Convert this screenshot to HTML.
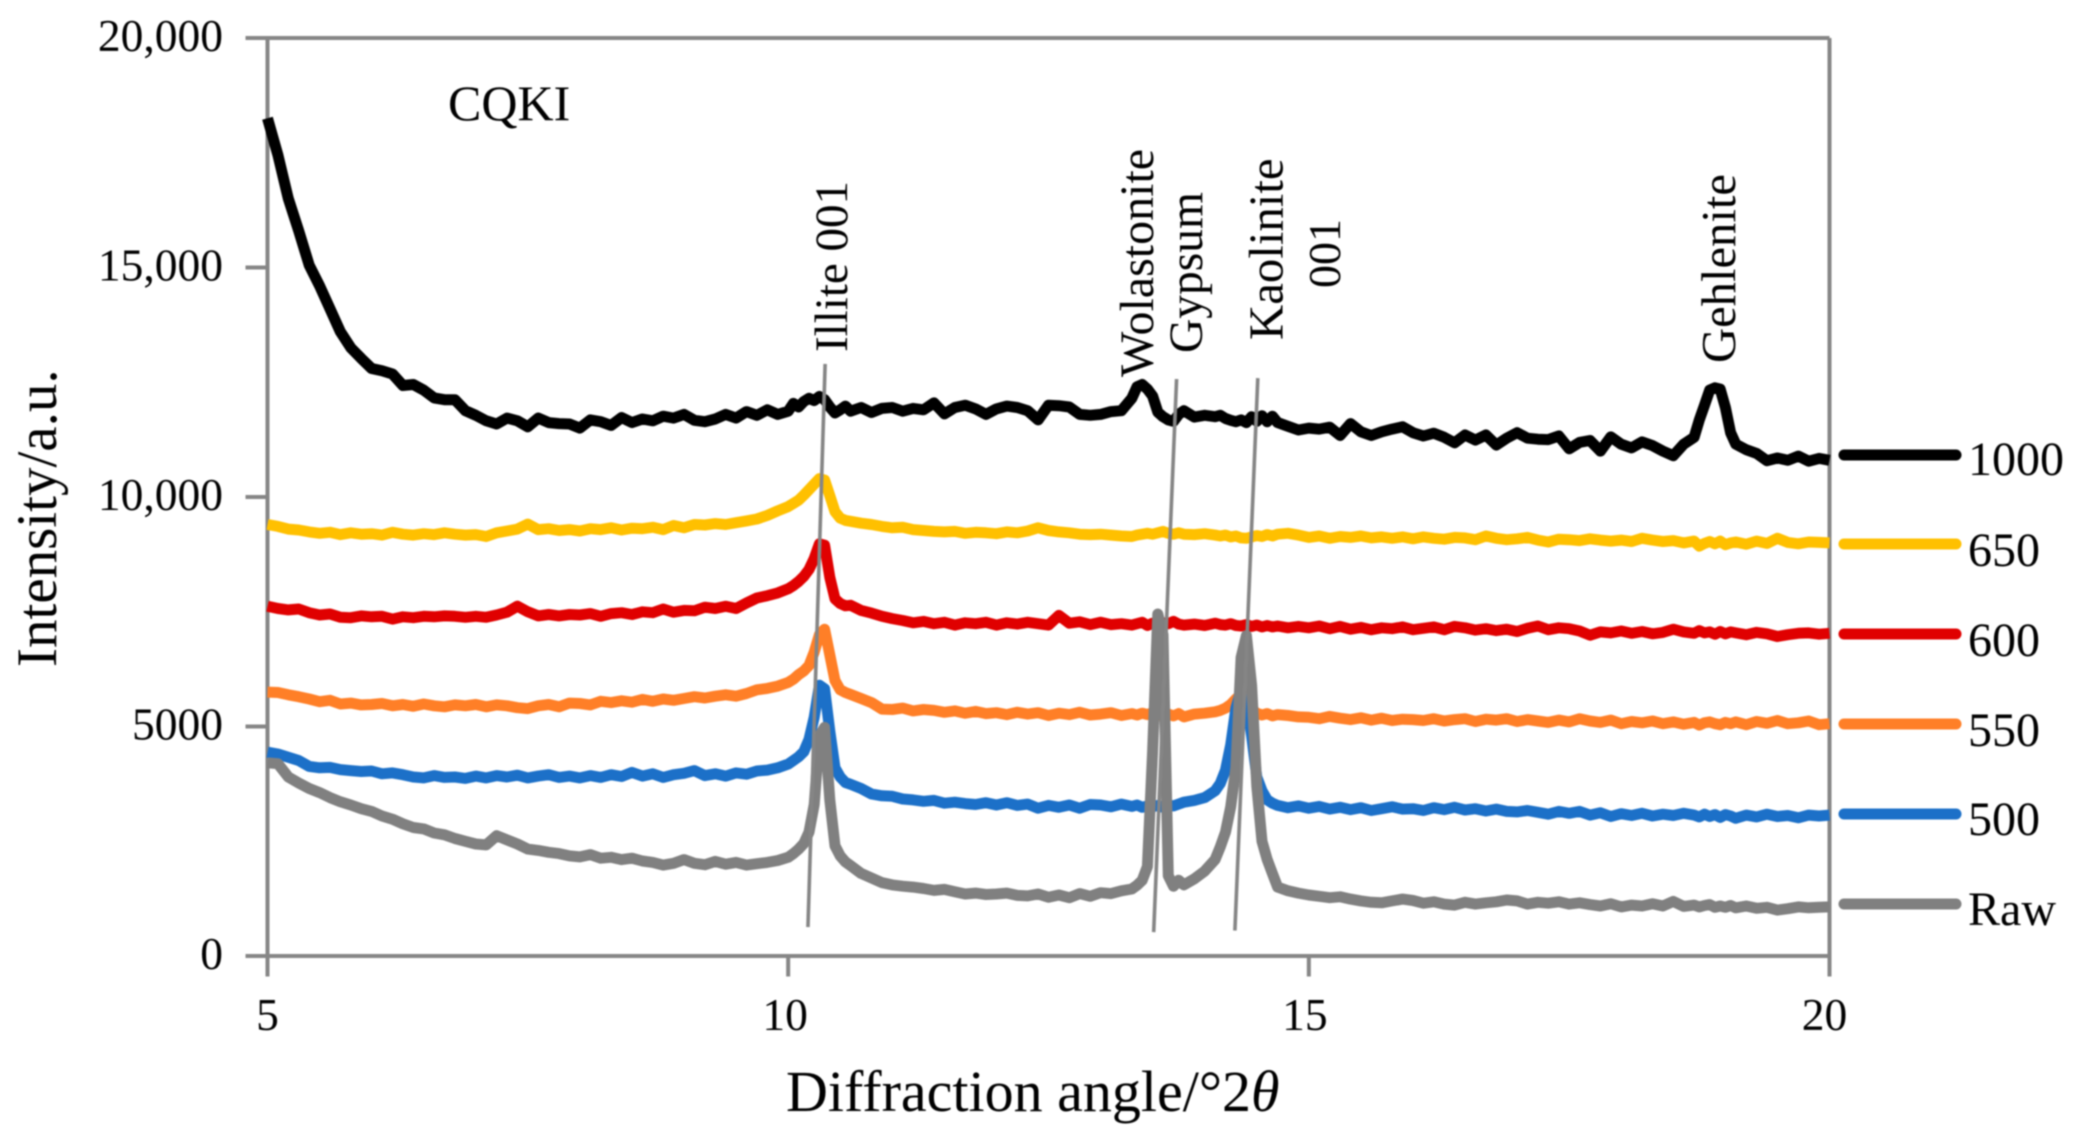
<!DOCTYPE html>
<html lang="en">
<head>
<meta charset="utf-8">
<title>CQKI XRD diffraction patterns</title>
<style>
html,body{margin:0;padding:0;background:#fff;}
#chart{display:block;width:2081px;height:1141px;filter:blur(0.7px);}
text{font-family:"Liberation Serif",serif;fill:#000;}
</style>
</head>
<body>
<svg id="chart" xmlns="http://www.w3.org/2000/svg" width="2081" height="1141" viewBox="0 0 2081 1141">
<g id="marks"></g>
<text x="448" y="120" font-size="50">CQKI</text>
<text x="786" y="1111" font-size="58">Diffraction angle/°2<tspan font-style="italic">θ</tspan></text>
<text transform="translate(56 667) rotate(-90)" font-size="57">Intensity/a.u.</text>
<text transform="translate(847 352) rotate(-90)" font-size="47">Illite 001</text>
<text transform="translate(1153 377) rotate(-90)" font-size="48">Wolastonite</text>
<text transform="translate(1202 353) rotate(-90)" font-size="47.5">Gypsum</text>
<text transform="translate(1282.5 340) rotate(-90)" font-size="48.8">Kaolinite</text>
<text transform="translate(1340 288) rotate(-90)" font-size="46">001</text>
<text transform="translate(1735 363) rotate(-90)" font-size="48.6">Gehlenite</text>
</svg>
<script>
const angles = [
5.0,5.1,5.2,5.3,5.4,5.5,5.6,5.7,5.8,5.9,
6.0,6.1,6.2,6.3,6.4,6.5,6.6,6.7,6.8,6.9,
7.0,7.1,7.2,7.3,7.4,7.5,7.6,7.7,7.8,7.9,
8.0,8.1,8.2,8.3,8.4,8.5,8.6,8.7,8.8,8.9,
9.0,9.1,9.2,9.3,9.4,9.5,9.6,9.7,9.8,9.9,
10.0,10.05,10.1,10.15,10.2,10.25,10.3,10.35,10.4,10.45,10.5,10.55,10.6,10.7,10.8,10.9,
11.0,11.1,11.2,11.3,11.4,11.5,11.6,11.7,11.8,11.9,
12.0,12.1,12.2,12.3,12.4,12.5,12.6,12.7,12.8,12.9,
13.0,13.1,13.2,13.3,13.35,13.4,13.45,13.5,13.55,13.6,13.65,13.7,13.75,13.8,13.9,
14.0,14.1,14.15,14.2,14.25,14.3,14.35,14.4,14.45,14.5,14.55,14.6,14.65,14.7,14.8,14.9,
15.0,15.1,15.2,15.3,15.4,15.5,15.6,15.7,15.8,15.9,
16.0,16.1,16.2,16.3,16.4,16.5,16.6,16.7,16.8,16.9,
17.0,17.1,17.2,17.3,17.4,17.5,17.6,17.7,17.8,17.9,
18.0,18.1,18.2,18.3,18.4,18.5,18.6,18.7,18.75,18.8,18.85,18.9,18.95,
19.0,19.05,19.1,19.2,19.3,19.4,19.5,19.6,19.7,19.8,19.9,
20.0];
const series1000 = [
18250,17450,16500,15800,15050,14600,14100,13600,13250,13020,
12800,12750,12680,12430,12450,12330,12160,12120,12120,11880,
11780,11660,11590,11720,11660,11530,11720,11620,11600,11590,
11500,11680,11640,11560,11730,11620,11700,11660,11760,11720,
11800,11670,11640,11700,11800,11720,11860,11780,11900,11800,
11870,12040,11960,12080,12150,12100,12190,12120,11960,11830,11900,11980,11870,11950,11840,11930,
11950,11870,11930,11900,12050,11810,11950,12000,11920,11800,
11920,11980,11950,11880,11680,12000,11990,11960,11800,11780,
11800,11860,11880,12150,12400,12450,12350,12200,11850,11750,11680,11650,11800,11880,11740,
11780,11750,11780,11710,11670,11640,11680,11620,11750,11650,11770,11640,11760,11620,11540,11460,
11500,11480,11520,11340,11600,11420,11340,11420,11480,11530,
11400,11330,11390,11300,11180,11350,11240,11350,11130,11280,
11400,11280,11260,11250,11330,11050,11190,11230,11000,11310,
11150,11070,11200,11120,11000,10900,11150,11300,11680,12000,12330,12380,12350,
11950,11400,11150,11030,10950,10790,10850,10800,10890,10780,10840,
10800];
const series650 = [
9400,9360,9300,9280,9240,9210,9230,9180,9220,9190,
9200,9170,9230,9190,9170,9200,9180,9220,9190,9170,
9180,9140,9220,9260,9300,9410,9290,9310,9270,9290,
9260,9310,9290,9330,9280,9320,9310,9340,9290,9380,
9330,9400,9390,9420,9400,9440,9480,9520,9600,9700,
9790,9860,9930,10040,10160,10280,10400,10370,10030,9680,9540,9490,9470,9430,9400,9360,
9330,9340,9290,9270,9250,9240,9250,9210,9230,9220,
9200,9240,9220,9260,9330,9270,9240,9220,9190,9180,
9190,9170,9150,9140,9170,9190,9210,9190,9220,9250,9210,9190,9220,9190,9180,
9200,9170,9150,9170,9130,9150,9110,9100,9130,9160,9140,9180,9150,9190,9210,9170,
9120,9150,9100,9140,9120,9150,9110,9130,9100,9130,
9090,9130,9100,9080,9120,9110,9070,9150,9100,9070,
9090,9120,9060,9020,9080,9070,9050,9090,9060,9040,
9060,9030,9100,9060,9030,9050,9000,9040,8930,8990,9030,8980,9040,
8960,9000,9020,8970,9040,8990,9100,9010,8980,9020,9010,
9000];
const series600 = [
7620,7570,7540,7560,7480,7430,7450,7380,7370,7410,
7390,7400,7340,7390,7370,7400,7390,7410,7400,7380,
7400,7380,7430,7490,7620,7500,7410,7440,7410,7440,
7430,7460,7400,7460,7480,7440,7500,7480,7560,7490,
7530,7520,7600,7570,7620,7570,7690,7800,7850,7910,
8000,8070,8160,8270,8420,8660,8980,8950,8250,7780,7680,7630,7640,7530,7470,7400,
7350,7310,7260,7290,7240,7270,7210,7260,7240,7270,
7210,7260,7230,7270,7240,7210,7420,7250,7280,7220,
7270,7220,7240,7210,7240,7270,7200,7250,7220,7260,7240,7290,7230,7210,7230,
7200,7250,7220,7210,7240,7200,7190,7220,7180,7210,7170,7200,7170,7190,7150,7180,
7150,7190,7130,7180,7120,7160,7110,7150,7130,7170,
7110,7140,7170,7110,7180,7150,7100,7130,7090,7120,
7070,7140,7190,7110,7150,7130,7080,6990,7060,7040,
7080,7030,7070,7020,7050,7120,7060,7030,7090,7040,7060,7010,7070,
7020,7060,7040,7000,7050,7020,6960,7000,7030,7040,7010,
7030];
const series550 = [
5750,5740,5690,5650,5600,5540,5570,5490,5510,5470,
5480,5500,5450,5480,5440,5490,5450,5430,5470,5450,
5480,5430,5470,5450,5410,5390,5450,5480,5430,5510,
5500,5470,5550,5520,5560,5530,5590,5550,5600,5570,
5610,5650,5620,5660,5690,5660,5720,5800,5830,5880,
5960,6030,6130,6210,6330,6620,7000,7120,6560,6000,5800,5740,5700,5610,5520,5380,
5370,5400,5340,5370,5350,5310,5340,5290,5330,5280,
5300,5260,5310,5270,5300,5240,5290,5260,5310,5250,
5270,5300,5240,5280,5250,5290,5260,5300,5240,5250,5270,5230,5280,5210,5270,
5290,5320,5350,5400,5480,5600,5700,5550,5380,5290,5250,5280,5230,5260,5240,5210,
5200,5170,5220,5180,5150,5190,5140,5180,5130,5160,
5150,5130,5170,5120,5150,5170,5110,5160,5140,5170,
5110,5150,5120,5090,5140,5100,5170,5120,5090,5140,
5060,5110,5080,5120,5060,5100,5050,5090,5030,5080,5100,5060,5040,
5090,5060,5100,5040,5110,5070,5130,5060,5080,5120,5040,
5060];
const series500 = [
4440,4400,4330,4260,4130,4100,4110,4060,4040,4020,
4030,3970,3990,3950,3900,3880,3930,3890,3900,3870,
3920,3880,3930,3900,3940,3880,3920,3950,3890,3920,
3880,3930,3890,3950,3910,4000,3920,3970,3890,3950,
3980,4040,3930,3970,3920,3990,3960,4030,4050,4100,
4180,4260,4340,4450,4720,5200,5900,5820,4900,4100,3900,3780,3740,3650,3530,3490,
3480,3420,3400,3370,3390,3330,3350,3320,3300,3340,
3290,3340,3280,3310,3220,3280,3240,3290,3220,3300,
3290,3250,3310,3260,3290,3240,3270,3250,3280,3240,3290,3270,3310,3350,3390,
3450,3600,3760,4050,4600,5400,5800,5600,4800,3900,3600,3400,3330,3280,3230,3270,
3220,3260,3200,3240,3190,3230,3170,3210,3250,3200,
3210,3170,3230,3190,3240,3180,3210,3160,3200,3150,
3140,3170,3130,3090,3150,3110,3150,3070,3120,3040,
3100,3060,3110,3050,3090,3060,3110,3070,3030,3090,3040,3080,3020,
3080,3050,3000,3070,3030,3090,3040,3060,3010,3070,3050,
3070];
const seriesRaw = [
4210,4190,3900,3770,3650,3560,3450,3360,3290,3210,
3150,3050,2980,2880,2800,2770,2680,2640,2560,2500,
2440,2420,2620,2530,2440,2330,2300,2260,2230,2180,
2160,2210,2130,2150,2100,2130,2070,2040,1980,2020,
2100,2020,1990,2060,2000,2040,1980,2010,2040,2080,
2150,2230,2330,2450,2700,3300,4800,4980,3400,2400,2180,2050,1970,1800,1700,1600,
1550,1520,1500,1470,1430,1450,1400,1350,1370,1340,
1350,1370,1320,1310,1350,1280,1330,1270,1360,1300,
1380,1360,1420,1460,1540,1650,1950,4450,7450,7000,1750,1520,1650,1550,1680,
1850,2100,2380,2700,3250,4100,6500,6980,5900,3700,2500,2100,1800,1500,1420,1370,
1330,1300,1270,1290,1240,1200,1170,1160,1200,1240,
1210,1150,1180,1130,1110,1170,1130,1160,1180,1220,
1200,1130,1170,1150,1180,1130,1160,1120,1090,1140,
1070,1110,1090,1140,1090,1190,1080,1110,1070,1100,1120,1060,1090,
1060,1100,1050,1090,1040,1060,1000,1030,1070,1050,1060,
1070];
const seriesNames = ['1000','650','600','550','500','Raw'];
const xTickValues = [5,10,15,20];
const yTickValues = [0,5000,10000,15000,20000];
const yTickLabels = ['0','5000','10,000','15,000','20,000'];
const peakLineTops = [[10.355,12900],[13.73,12570],[14.51,12590]];
const peakLineBottoms = [[10.19,630],[13.51,520],[14.29,555]];
const peakLineNames = ['illite-line','gypsum-line','kaolinite-line'];

const seriesValues = [series1000,series650,series600,series550,series500,seriesRaw];
const seriesColors = ['#000000','#FFC000','#E00000','#FF7F27','#1C70C8','#808080'];
const legendY = [455,544,634,724,814,904];
const legendBase = [475,566,656,746,835,925];
const X0 = 267.5, X1 = 1829.5, Y0 = 956, Y1 = 38;
const sx = v => X0 + (v - 5) * (X1 - X0) / 15;
const sy = v => Y0 - v * (Y0 - Y1) / 20000;
const NS = 'http://www.w3.org/2000/svg';
const marks = document.getElementById('marks');
const AXIS = '#868686';

function addLine(x1, y1, x2, y2, color, width) {
  const l = document.createElementNS(NS, 'line');
  l.setAttribute('x1', x1);
  l.setAttribute('y1', y1);
  l.setAttribute('x2', x2);
  l.setAttribute('y2', y2);
  l.setAttribute('stroke', color);
  l.setAttribute('stroke-width', width);
  marks.appendChild(l);
  return l;
}
function addText(x, y, str, size, anchor) {
  const t = document.createElementNS(NS, 'text');
  t.setAttribute('x', x);
  t.setAttribute('y', y);
  t.setAttribute('font-size', size);
  t.setAttribute('text-anchor', anchor);
  t.textContent = str;
  marks.appendChild(t);
  return t;
}

// frame
let frame = addLine(X0, Y1, X1, Y1, AXIS, 4);


frame = addLine(X0, Y0, X1, Y0, AXIS, 4);


frame = addLine(X0, Y1, X0, 976.5, AXIS, 4);


frame = addLine(X1, Y1, X1, 976.5, AXIS, 4);



// y ticks
yTickValues.forEach((v, i) => {
  const tick = addLine(245.5, sy(v), X0, sy(v), AXIS, 4);
  
  
  const lab = addText(223, sy(v) + 13, yTickLabels[i], 45.5, 'end');
  
  
});
// x ticks
xTickValues.forEach((v, i) => {
  const tick = addLine(sx(v), Y0, sx(v), 976.5, AXIS, 4);
  
  
  const lab = addText(sx(v) - (i === 0 ? 0 : 2 + i), 1030, String(v), 45.5, 'middle');
  
  
});

// series
seriesValues.forEach((vals, i) => {
  const p = document.createElementNS(NS, 'path');
  let d = '';
  for (let k = 0; k < angles.length; k++) {
    d += (k ? 'L' : 'M') + sx(angles[k]).toFixed(1) + ' ' + sy(vals[k]).toFixed(1);
  }
  p.setAttribute('d', d);
  p.setAttribute('fill', 'none');
  p.setAttribute('stroke', seriesColors[i]);
  p.setAttribute('stroke-width', '11');
  p.setAttribute('stroke-linejoin', 'round');
  p.setAttribute('stroke-linecap', 'butt');
  
  
  marks.appendChild(p);
});

// peak guide lines
peakLineTops.forEach((top, i) => {
  const bot = peakLineBottoms[i];
  const l = addLine(sx(top[0]), sy(top[1]), sx(bot[0]), sy(bot[1]), '#858585', 3.6);
  
  
});

// legend
seriesNames.forEach((name, i) => {
  const l = addLine(1844, legendY[i], 1956, legendY[i], seriesColors[i], 11);
  l.setAttribute('stroke-linecap', 'round');
  
  
  const t = addText(1968, legendBase[i], name, 48, 'start');
  
  
});
</script>
</body>
</html>
